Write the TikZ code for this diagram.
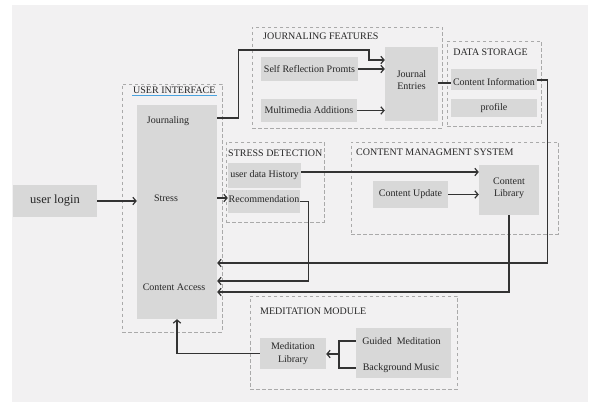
\documentclass[tikz,border=0pt]{standalone}
\usepackage{fontspec}
\setmainfont{Liberation Serif}
\usetikzlibrary{arrows.meta}
\definecolor{bgc}{HTML}{F2F1F2}
\definecolor{boxc}{HTML}{D8D8D8}
\definecolor{dashc}{HTML}{AAAAAA}
\definecolor{linec}{HTML}{333333}
\definecolor{txtc}{HTML}{262626}
\definecolor{ulc}{HTML}{4AA3DF}
\begin{document}
\begin{tikzpicture}[x=1pt,y=-1pt,
  font=\fontsize{10}{12.5}\selectfont, text=txtc,
  gbox/.style={fill=boxc, draw=none, inner sep=0pt, align=center},
  dbox/.style={draw=dashc, line width=0.8pt, dash pattern=on 3.5pt off 2.5pt, inner sep=0pt},
  txt/.style={inner sep=1pt, align=center},
  conn/.style={draw=linec, line width=1.2pt, -{Straight Barb[length=3.2pt,width=7.5pt]}},
  plain/.style={draw=linec, line width=1.2pt},
  uline/.style={draw=ulc, line width=1.2pt}]
\useasboundingbox (0,0) rectangle (589,403);
\fill[white] (0,0) rectangle (589,403);
\fill[bgc] (12,5) rectangle (588,402);

% level coordinates
\coordinate (lv118) at (0,118);
\coordinate (lv83) at (0,83);
\coordinate (lv172) at (0,172);
\coordinate (lv263) at (0,263);
\coordinate (lv281) at (0,281);
\coordinate (lv292) at (0,292);
\coordinate (jbend) at (369,50);
\coordinate (lv60) at (0,60);
\coordinate (mj) at (339,354);

% frames
\node[dbox, minimum width=100pt, minimum height=248pt] (uiframe) at (172,208) {};
\node[dbox, minimum width=190pt, minimum height=101pt] (jf) at (347,77.5) {};
\node[dbox, minimum width=94pt, minimum height=85pt] (ds) at (494,83.5) {};
\node[dbox, minimum width=98pt, minimum height=80pt] (sd) at (275,182) {};
\node[dbox, minimum width=207pt, minimum height=92pt] (cms) at (454.5,188) {};
\node[dbox, minimum width=207pt, minimum height=93pt] (mm) at (353.5,342.5) {};

% titles
\node[txt, anchor=west] (uititle) at (132,90) {USER INTERFACE};
\draw[uline] ([yshift=-2pt]uititle.base west) -- ([yshift=-2pt]uititle.base east);
\node[txt, anchor=west] (jftitle) at (262,36) {JOURNALING FEATURES};
\node[txt] (dstitle) at (490.5,52) {DATA STORAGE};
\node[txt, anchor=west] (sdtitle) at (227,153) {STRESS DETECTION};
\node[txt, anchor=west] (cmstitle) at (355,152) {CONTENT MANAGMENT SYSTEM};
\node[txt, anchor=west] (mmtitle) at (259,311) {MEDITATION MODULE};

% boxes
\node[gbox, minimum width=84pt, minimum height=32pt, font=\fontsize{12.5}{14}\selectfont] (login) at (55,201) {user login};
\node[gbox, minimum width=80pt, minimum height=214pt] (ui) at (177,212) {};
\node[txt] (tjour) at (168,121) {Journaling};
\node[txt] (tstress) at (166,198) {Stress};
\node[txt] (tcontent) at (174,287) {Content Access};

\node[gbox, minimum width=97pt, minimum height=24pt] (srp) at (309.5,69) {Self Reflection Promts};
\node[gbox, minimum width=96pt, minimum height=23pt] (ma) at (309,110.5) {Multimedia Additions};
\node[gbox, minimum width=53pt, minimum height=74pt] (je) at (411.5,84) {};
\node[txt] (tje) at (411.5,80) {Journal\\Entries};

\node[gbox, minimum width=86pt, minimum height=21pt] (ci) at (494,80) {};
\node[txt] (tci) at (494,82) {Content Information};
\node[gbox, minimum width=86pt, minimum height=18pt] (prof) at (494,108) {profile};

\node[gbox, minimum width=73pt, minimum height=25pt] (udh) at (264.5,175.5) {user data History};
\node[gbox, minimum width=72pt, minimum height=23pt] (rec) at (264,201.5) {};
\node[txt] (trec) at (264,199) {Recommendation};

\node[gbox, minimum width=75pt, minimum height=27pt] (cu) at (410.5,194.5) {Content Update};
\node[gbox, minimum width=60pt, minimum height=50pt] (cl) at (509,190) {};
\node[txt] (tcl) at (509,188.5) {Content\\Library};

\node[gbox, minimum width=66pt, minimum height=31pt] (ml) at (293,353.5) {Meditation\\Library};
\node[gbox, minimum width=95pt, minimum height=50pt] (gb) at (403.5,353) {};
\node[txt] (tguided) at (401.5,341) {Guided\enspace Meditation};
\node[txt] (tbg) at (401,368) {Background Music};

% connectors
\draw[conn] (login.east) -- (login.east -| ui.west);
\draw[conn] (ui.east |- lv118) -- ++(21,0) |- (jbend) |- (je.west |- lv60);
\draw[conn] (srp.east) -- (srp.east -| je.west);
\draw[conn] (ma.east) -- (ma.east -| je.west);
\draw[plain] (je.east |- lv83) -- (ci.west |- lv83);
\draw[conn] (ci.east) -- ++(10,0) |- (ui.east |- lv263);
\draw[conn] (tstress -| ui.east) -- (tstress -| rec.west);
\draw[conn] (udh.east |- lv172) -- (cl.west |- lv172);
\draw[conn] (rec.east) -- ++(8,0) |- (ui.east |- lv281);
\draw[conn] (cu.east) -- (cu.east -| cl.west);
\draw[conn] (cl.south) |- (ui.east |- lv292);
\draw[plain] (tguided -| gb.west) -- (mj |- tguided) -- (mj |- tbg) -- (tbg -| gb.west);
\draw[conn] (mj) -- (mj -| ml.east);
\draw[conn] (ml.west) -| (ui.south);
\end{tikzpicture}
\end{document}
